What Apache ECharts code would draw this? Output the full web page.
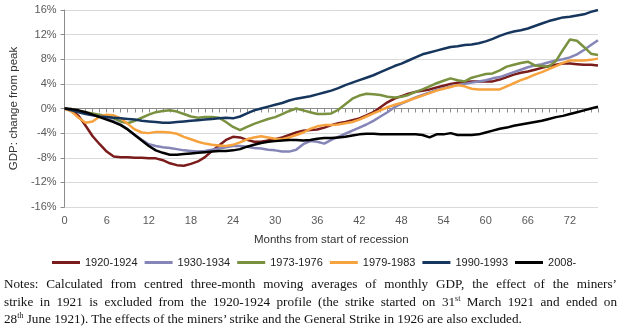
<!DOCTYPE html>
<html>
<head>
<meta charset="utf-8">
<script src="https://cdn.jsdelivr.net/npm/echarts@6/dist/echarts.min.js"></script>
<style>
  html, body { margin: 0; padding: 0; background: #fff; }
  #wrap { position: relative; width: 620px; height: 332px; overflow: hidden; }
  #chart { position: absolute; left: 0; top: 0; width: 620px; height: 332px; }
  #notes {
    position: absolute; left: 4px; top: 275px; width: 613px;
    font-family: "Liberation Serif", "Times New Roman", serif;
    font-size: 13.2px; line-height: 17.5px; color: #111;
  }
  #notes .j { text-align: justify; text-align-last: justify; white-space: nowrap; }
  #notes .l { text-align: left; white-space: nowrap; }
  #notes sup { font-size: 8px; line-height: 0; vertical-align: 5px; }
</style>
</head>
<body>
<div id="wrap">
  <div id="chart"></div>
  <div id="notes">
    <div class="j">Notes: Calculated from centred three-month moving averages of monthly GDP, the effect of the miners’</div>
    <div class="j">strike in 1921 is excluded from the 1920-1924 profile (the strike started on 31<sup>st</sup> March 1921 and ended on</div>
    <div class="l">28<sup>th</sup> June 1921). The effects of the miners’ strike and the General Strike in 1926 are also excluded.</div>
  </div>
</div>
<script>
// Months since the pre-recession peak (0..76)
const months = [];
for (let m = 0; m <= 76; m++) months.push(String(m));

// GDP, % change from peak, by month
const s1920 = [0, -0.3, -1.2, -2.8, -4.5, -5.8, -7.0, -7.8, -7.9, -7.9, -8.0, -8.0, -8.1, -8.1, -8.4, -8.9, -9.2, -9.3, -9.0, -8.6,
  -7.9, -6.9, -6.0, -5.1, -4.6, -4.7, -5.1, -5.4, -5.4, -5.2, -5.0, -4.7, -4.3, -3.9, -3.6, -3.5, -3.4, -3.1, -2.7, -2.4,
  -2.2, -1.9, -1.6, -1.1, -0.6, 0.2, 1.0, 1.6, 2.0, 2.4, 2.7, 2.9, 3.1, 3.4, 3.7, 4.0, 4.2, 4.3, 4.4, 4.4,
  4.4, 4.4, 4.7, 5.1, 5.5, 5.8, 6.0, 6.3, 6.6, 6.9, 7.1, 7.3, 7.3, 7.2, 7.1, 7.1, 7.0];
const s1930 = [0, -0.2, -0.5, -0.8, -1.0, -1.3, -1.6, -2.1, -2.6, -3.4, -4.3, -5.1, -5.8, -6.1, -6.3, -6.4, -6.6, -6.8, -6.9, -7.0,
  -6.9, -6.7, -6.5, -6.3, -6.1, -6.1, -6.2, -6.4, -6.5, -6.7, -6.8, -7.0, -7.0, -6.7, -5.8, -5.3, -5.4, -5.7, -5.1, -4.6,
  -4.1, -3.6, -3.1, -2.6, -2.0, -1.3, -0.6, 0.2, 0.8, 1.3, 1.8, 2.2, 2.6, 3.0, 3.3, 3.6, 3.8, 4.0, 4.2, 4.4,
  4.6, 4.9, 5.1, 5.5, 5.9, 6.3, 6.7, 7.0, 7.2, 7.5, 7.8, 8.0, 8.3, 8.8, 9.5, 10.3, 11.1];
const s1973 = [0, -0.2, -0.4, -0.6, -0.8, -1.0, -1.2, -1.6, -2.1, -2.4, -2.0, -1.5, -1.0, -0.6, -0.4, -0.3, -0.5, -0.9, -1.3, -1.5,
  -1.4, -1.4, -1.5, -2.2, -3.0, -3.5, -3.0, -2.5, -2.1, -1.7, -1.4, -0.9, -0.4, 0.0, -0.3, -0.6, -0.9, -0.9, -0.8, -0.2,
  0.7, 1.6, 2.1, 2.4, 2.3, 2.2, 1.9, 1.8, 1.9, 2.2, 2.7, 3.1, 3.6, 4.1, 4.5, 4.9, 4.6, 4.4, 5.0, 5.3,
  5.6, 5.7, 6.2, 6.8, 7.1, 7.4, 7.6, 7.0, 6.9, 6.8, 7.7, 9.5, 11.2, 11.0, 10.0, 8.9, 8.7];
const s1979 = [0, -0.5, -1.5, -2.3, -2.1, -1.3, -1.0, -1.1, -1.6, -2.5, -3.4, -3.9, -4.0, -3.8, -3.8, -3.9, -4.1, -4.6, -5.0, -5.4,
  -5.7, -5.9, -6.0, -6.1, -5.9, -5.5, -5.0, -4.7, -4.5, -4.7, -4.9, -5.0, -4.7, -4.3, -3.9, -3.3, -2.9, -2.7, -2.7, -2.6,
  -2.4, -2.2, -1.8, -1.3, -0.8, -0.3, 0.2, 0.6, 0.9, 1.3, 1.7, 2.1, 2.5, 2.9, 3.2, 3.5, 3.8, 3.6, 3.2, 3.1,
  3.1, 3.1, 3.1, 3.6, 4.1, 4.6, 5.0, 5.5, 5.9, 6.4, 6.9, 7.4, 7.8, 7.8, 7.8, 7.9, 8.1];
const s1990 = [0, -0.3, -0.6, -0.9, -1.1, -1.3, -1.4, -1.5, -1.6, -1.7, -1.8, -2.0, -2.1, -2.2, -2.3, -2.3, -2.2, -2.1, -2.0, -1.9,
  -1.8, -1.7, -1.6, -1.5, -1.6, -1.3, -0.8, -0.3, 0.0, 0.3, 0.6, 0.9, 1.3, 1.6, 1.8, 2.0, 2.3, 2.6, 2.9, 3.3,
  3.8, 4.2, 4.6, 5.0, 5.4, 5.9, 6.4, 6.9, 7.3, 7.8, 8.3, 8.8, 9.1, 9.4, 9.7, 10.0, 10.1, 10.3, 10.4, 10.6,
  10.9, 11.3, 11.8, 12.2, 12.5, 12.7, 13.0, 13.4, 13.8, 14.2, 14.5, 14.8, 14.9, 15.1, 15.3, 15.7, 16.0];
const s2008 = [0, -0.1, -0.3, -0.6, -1.0, -1.4, -1.8, -2.2, -2.7, -3.4, -4.3, -5.2, -6.1, -6.8, -7.2, -7.5, -7.5, -7.4, -7.3, -7.2,
  -7.1, -7.0, -6.9, -6.9, -6.8, -6.6, -6.2, -5.9, -5.6, -5.4, -5.3, -5.2, -5.1, -5.1, -5.2, -5.1, -4.9, -4.8, -4.8, -4.7,
  -4.6, -4.4, -4.2, -4.1, -4.1, -4.2, -4.2, -4.2, -4.2, -4.2, -4.2, -4.3, -4.7, -4.2, -4.2, -4.0, -4.3, -4.3, -4.3, -4.2,
  -3.9, -3.6, -3.3, -3.1, -2.8, -2.6, -2.4, -2.2, -2.0, -1.7, -1.4, -1.2, -0.9, -0.6, -0.3, 0.0, 0.3];

const seriesNames = ['1920-1924', '1930-1934', '1973-1976', '1979-1983', '1990-1993', '2008-'];
const seriesData = [s1920, s1930, s1973, s1979, s1990, s2008];
const seriesColors = ['#7b1c1c', '#8585b8', '#7a9140', '#f6a23e', '#17365d', '#000000'];

const FONT = '"Liberation Sans", Arial, sans-serif';
const axisGrey = '#8c8c8c';
const labelGrey = '#595959';

const chart = echarts.init(document.getElementById('chart'), null, { renderer: 'canvas' });

chart.setOption({
  animation: false,
  backgroundColor: '#fff',
  grid: { left: 59, right: 22, top: 10, bottom: 125, containLabel: false },
  legend: {
    left: 47, top: 252,
    icon: 'rect', itemWidth: 28, itemHeight: 3, itemGap: 7,
    textStyle: { fontFamily: FONT, fontSize: 11, color: '#222' },
    data: seriesNames
  },
  xAxis: [
    {
      type: 'category', data: months, boundaryGap: false, position: 'bottom',
      name: 'Months from start of recession', nameLocation: 'middle', nameGap: 27,
      nameTextStyle: { fontFamily: FONT, fontSize: 11.5, color: '#333' },
      axisLine: { show: false, onZero: false },
      axisTick: { show: false },
      axisLabel: { interval: 5, margin: 8, fontFamily: FONT, fontSize: 11, color: labelGrey },
      splitLine: { show: false }
    },
    {
      type: 'category', data: months, boundaryGap: false, position: 'bottom',
      axisLine: { show: true, onZero: true, lineStyle: { color: axisGrey, width: 1 } },
      axisTick: { show: true, interval: 0, length: 4, lineStyle: { color: axisGrey } },
      axisLabel: { show: false },
      splitLine: { show: false }
    }
  ],
  yAxis: {
    type: 'value', min: -16, max: 16, interval: 4,
    name: 'GDP: change from peak', nameLocation: 'middle', nameGap: 38, nameRotate: 90,
    nameTextStyle: { fontFamily: FONT, fontSize: 11.5, color: '#333' },
    axisLine: { show: true, lineStyle: { color: axisGrey } },
    axisTick: { show: true, length: 4, lineStyle: { color: axisGrey } },
    axisLabel: { formatter: '{value}%', margin: 8, fontFamily: FONT, fontSize: 11, color: labelGrey },
    splitLine: { show: true, lineStyle: { color: '#d9d9d9', width: 1 } }
  },
  series: seriesNames.map((name, i) => ({
    name: name,
    type: 'line',
    xAxisIndex: 0,
    data: seriesData[i],
    showSymbol: false,
    symbol: 'none',
    smooth: false,
    color: seriesColors[i],
    lineStyle: { width: 2.5, color: seriesColors[i] },
    z: 2 + i
  }))
});
</script>
</body>
</html>
